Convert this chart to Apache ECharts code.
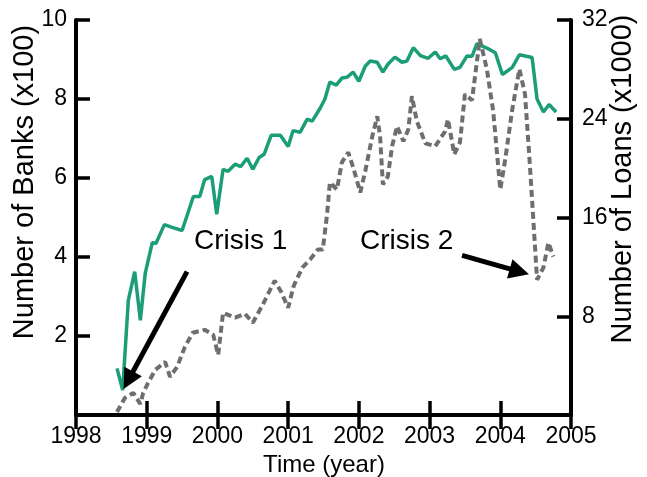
<!DOCTYPE html>
<html>
<head>
<meta charset="utf-8">
<script src="https://cdn.jsdelivr.net/npm/echarts@6/dist/echarts.min.js"></script>
<style>
  html, body { margin: 0; padding: 0; background: #fff; }
</style>
</head>
<body>
<div id="main" style="width: 647px; height: 477px;"></div>
<script>
// number of banks (x100), left axis
const bankTime = [1998.58, 1998.66, 1998.74, 1998.83, 1998.91, 1998.98, 1999.08, 1999.13, 1999.25, 1999.36,
  1999.50, 1999.66, 1999.75, 1999.82, 1999.92, 1999.99, 2000.08, 2000.15, 2000.25, 2000.33,
  2000.42, 2000.50, 2000.59, 2000.66, 2000.76, 2000.89, 2001.00, 2001.07, 2001.17, 2001.27,
  2001.34, 2001.45, 2001.52, 2001.59, 2001.68, 2001.76, 2001.83, 2001.92, 2002.00, 2002.09,
  2002.16, 2002.26, 2002.34, 2002.41, 2002.51, 2002.61, 2002.68, 2002.77, 2002.87, 2002.98,
  2003.08, 2003.15, 2003.23, 2003.35, 2003.43, 2003.53, 2003.60, 2003.67, 2003.81, 2003.93,
  2004.03, 2004.17, 2004.27, 2004.45, 2004.52, 2004.61, 2004.69, 2004.79]
const banks = [1.18, 0.63, 2.9, 3.63, 2.4, 3.6, 4.37, 4.34, 4.82, 4.75,
  4.67, 5.53, 5.53, 5.96, 6.04, 5.08, 6.22, 6.17, 6.35, 6.29,
  6.5, 6.22, 6.52, 6.6, 7.08, 7.08, 6.8, 7.2, 7.16, 7.49,
  7.44, 7.76, 8.0, 8.43, 8.35, 8.53, 8.55, 8.68, 8.45, 8.83,
  8.96, 8.93, 8.68, 8.88, 9.06, 8.93, 8.96, 9.3, 9.1, 9.03,
  9.19, 9.02, 9.09, 8.75, 8.8, 9.09, 9.08, 9.4, 9.29, 9.17,
  8.62, 8.8, 9.12, 9.05, 8.0, 7.67, 7.86, 7.67]

// number of loans (x1000), right axis
const loanTime = [1998.58, 1998.69, 1998.81, 1998.91, 1998.95, 1999.02, 1999.12, 1999.26, 1999.33, 1999.43,
  1999.54, 1999.65, 1999.82, 1999.94, 2000.01, 2000.08, 2000.25, 2000.39, 2000.50, 2000.64,
  2000.81, 2000.90, 2001.00, 2001.08, 2001.20, 2001.31, 2001.42, 2001.49, 2001.55, 2001.59,
  2001.69, 2001.76, 2001.85, 2001.92, 2002.02, 2002.09, 2002.19, 2002.26, 2002.30, 2002.34,
  2002.41, 2002.47, 2002.54, 2002.63, 2002.70, 2002.75, 2002.82, 2002.94, 2003.08, 2003.22,
  2003.26, 2003.35, 2003.43, 2003.50, 2003.60, 2003.71, 2003.81, 2003.90, 2004.00, 2004.07,
  2004.17, 2004.27, 2004.35, 2004.42, 2004.52, 2004.61, 2004.68, 2004.75]
const loans = [0.24, 1.38, 1.79, 0.89, 1.79, 2.6, 3.65, 4.3, 3.09, 3.9,
  5.52, 6.66, 6.9, 6.5, 4.87, 8.28, 7.88, 8.2, 7.47, 8.93,
  10.88, 9.99, 8.69, 10.48, 11.94, 12.59, 13.4, 13.4, 16.24, 18.84,
  18.27, 20.47, 21.28, 20.06, 18.03, 19.74, 22.58, 24.2, 22.58, 18.68,
  19.33, 21.77, 23.39, 22.17, 23.15, 25.83, 23.8, 22.01, 21.77, 22.98,
  23.96, 21.12, 22.09, 25.99, 25.5, 30.46, 28.02, 24.61, 18.27, 20.71,
  24.77, 28.02, 25.99, 20.14, 10.96, 11.94, 13.97, 12.83]

const yearTicks = [1998, 1999, 2000, 2001, 2002, 2003, 2004, 2005]

// arrows, in (year, banks) units
const crisis1Arrow = [[1999.57, 3.63], [1998.74, 0.88]]
const crisis2Arrow = [[2003.46, 4.04], [2004.27, 3.63]]

const font = '"Liberation Sans", Arial, sans-serif'
const green = '#1b9e77'
const grey = '#6e6e6e'

function pairs (xs, ys) {
  return xs.map((x, i) => [x, ys[i]])
}

function hideZero (v) {
  return v === 0 ? '' : String(v)
}

const axisLine = { show: true, lineStyle: { color: '#000', width: 4 } }
const axisTick = { show: true, inside: true, length: 14, lineStyle: { color: '#000', width: 3.5 } }

const option = {
  backgroundColor: '#fff',
  animation: false,
  grid: { left: 76, right: 76, top: 20, bottom: 62, outerBoundsMode: 'none' },
  xAxis: [
    {
      type: 'value',
      position: 'bottom',
      min: yearTicks[0],
      max: yearTicks[yearTicks.length - 1],
      interval: 1,
      axisLine: axisLine,
      axisTick: axisTick,
      splitLine: { show: false },
      axisLabel: {
        color: '#000',
        fontFamily: font,
        fontSize: 23,
        margin: 10,
        showMinLabel: true,
        showMaxLabel: true,
        formatter: v => String(v)
      }
    },
    {
      type: 'value',
      position: 'top',
      min: yearTicks[0],
      max: yearTicks[yearTicks.length - 1],
      interval: 1,
      axisLine: axisLine,
      axisTick: axisTick,
      splitLine: { show: false },
      axisLabel: { show: false }
    }
  ],
  yAxis: [
    {
      type: 'value',
      position: 'left',
      min: 0,
      max: 10,
      interval: 2,
      axisLine: axisLine,
      axisTick: axisTick,
      splitLine: { show: false },
      axisLabel: { color: '#000', fontFamily: font, fontSize: 23, margin: 9, formatter: hideZero }
    },
    {
      type: 'value',
      position: 'right',
      min: 0,
      max: 32,
      interval: 8,
      axisLine: axisLine,
      axisTick: axisTick,
      splitLine: { show: false },
      axisLabel: { color: '#000', fontFamily: font, fontSize: 23, margin: 11, formatter: hideZero }
    }
  ],
  series: [
    {
      name: 'Banks',
      type: 'line',
      xAxisIndex: 0,
      yAxisIndex: 0,
      showSymbol: false,
      lineStyle: { color: green, width: 3.5 },
      data: pairs(bankTime, banks)
    },
    {
      name: 'Loans',
      type: 'line',
      xAxisIndex: 0,
      yAxisIndex: 1,
      showSymbol: false,
      lineStyle: { color: grey, width: 4, type: [7, 4] },
      data: pairs(loanTime, loans)
    },
    {
      // holds the two arrows
      name: 'arrows',
      type: 'line',
      xAxisIndex: 0,
      yAxisIndex: 0,
      z: 5,
      data: [],
      markLine: {
        silent: true,
        symbol: ['none', 'triangle'],
        symbolSize: [20, 20],
        label: { show: false },
        lineStyle: { color: '#000', width: 5, type: 'solid' },
        data: [
          [{ coord: crisis1Arrow[0] }, { coord: crisis1Arrow[1] }],
          [{ coord: crisis2Arrow[0] }, { coord: crisis2Arrow[1] }]
        ]
      }
    }
  ],
  graphic: [
    {
      type: 'text',
      x: 25,
      y: 182,
      rotation: Math.PI / 2,
      style: { text: 'Number of Banks (x100)', font: '29px ' + font, fill: '#000', textAlign: 'center', textVerticalAlign: 'middle' }
    },
    {
      type: 'text',
      x: 623,
      y: 179,
      rotation: Math.PI / 2,
      style: { text: 'Number of Loans (x1000)', font: '29px ' + font, fill: '#000', textAlign: 'center', textVerticalAlign: 'middle' }
    },
    {
      type: 'text',
      x: 324,
      y: 465,
      style: { text: 'Time (year)', font: '24px ' + font, fill: '#000', textAlign: 'center', textVerticalAlign: 'middle' }
    },
    {
      type: 'text',
      x: 194,
      y: 241,
      style: { text: 'Crisis 1', font: '28px ' + font, fill: '#000', textAlign: 'left', textVerticalAlign: 'middle' }
    },
    {
      type: 'text',
      x: 360,
      y: 241,
      style: { text: 'Crisis 2', font: '28px ' + font, fill: '#000', textAlign: 'left', textVerticalAlign: 'middle' }
    }
  ]
}

const myChart = echarts.init(document.getElementById('main'))
myChart.setOption(option)
</script>
</body>
</html>
